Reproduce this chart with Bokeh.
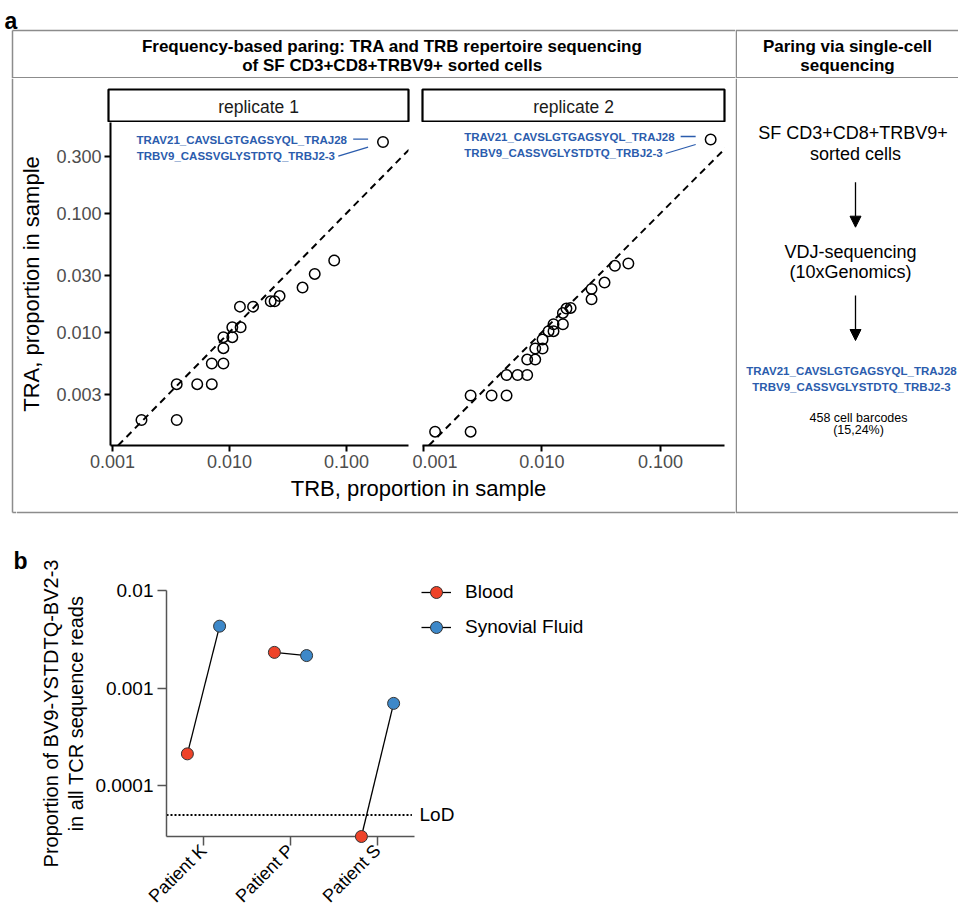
import math
import numpy as np
from bokeh.plotting import figure
from bokeh.layouts import row, column
from bokeh.models import (Range1d, FixedTicker, PrintfTickFormatter, Slope, Arrow, NormalHead,
                          Label, Legend, LegendItem, ColumnDataSource)
from bokeh.core.properties import value
from bokeh.embed import file_html
from bokeh.resources import INLINE

FONT = "Liberation Sans"
GRID = "#8c8c8c"
BLUE_TXT = "#2b5cad"
RED = "#ee4329"
BLUE = "#3d88c9"

# ---------------- data: panel a ----------------
replicates = ["replicate 1", "replicate 2"]
rep1_trb = [0.205, 0.0785, 0.0535, 0.0421, 0.0268, 0.0243, 0.0225, 0.0159, 0.01228, 0.01245,
            0.01057, 0.01057, 0.00887, 0.00887, 0.00887, 0.00706, 0.00706, 0.00530, 0.00354,
            0.00354, 0.00177]
rep1_tra = [0.396, 0.0400, 0.0309, 0.0237, 0.0201, 0.0182, 0.0182, 0.0164, 0.0164, 0.0110,
            0.0110, 0.00908, 0.00908, 0.00734, 0.00546, 0.00546, 0.00366, 0.00366, 0.00366,
            0.00183, 0.00183]
rep2_trb = [0.264, 0.0535, 0.0412, 0.0337, 0.0262, 0.0262, 0.01746, 0.0161, 0.01503, 0.01503,
            0.01253, 0.01253, 0.01138, 0.01013, 0.01013, 0.00879, 0.00879, 0.00752, 0.00752,
            0.00624, 0.00504, 0.00504, 0.00377, 0.00251, 0.00251, 0.00126]
rep2_tra = [0.416, 0.0378, 0.0361, 0.0261, 0.0231, 0.0189, 0.0160, 0.0158, 0.01452, 0.01167,
            0.01167, 0.0102, 0.0102, 0.00868, 0.00729, 0.00729, 0.00589, 0.00589, 0.00437,
            0.00437, 0.00437, 0.00294, 0.00294, 0.00294, 0.00146, 0.00146]
a_ticks_x = [0.001, 0.01, 0.1]
a_ticks_y = [0.003, 0.01, 0.03, 0.1, 0.3]
clone_labels = ["TRAV21_CAVSLGTGAGSYQL_TRAJ28", "TRBV9_CASSVGLYSTDTQ_TRBJ2-3"]

# ---------------- data: panel b ----------------
patients = ["Patient K", "Patient P", "Patient S"]
blood = [2.12e-4, 2.34e-3, 3.0e-5]
synovial = [4.35e-3, 2.17e-3, 7.0e-4]
lod = 5e-5
b_ticks_y = [1e-4, 1e-3, 1e-2]
b_tick_labels_y = ["0.0001", "0.001", "0.01"]

A_YR = (0.001117, 0.578)
PLOT_H = 355
PLOT_BB = 32


def deco(w, h):
    p = figure(width=w, height=h, x_range=Range1d(0, w), y_range=Range1d(h, 0),
               min_border=0, x_axis_location=None, y_axis_location=None,
               output_backend="svg", toolbar_location=None)
    p.outline_line_color = None
    p.grid.visible = False
    return p


def txt(p, x, y, s, size, bold=False, color="black", align="center", baseline="middle",
        angle=0.0):
    p.text(x=[x], y=[y], text=[s], text_font=value(FONT), text_font_size=f"{size}px",
           text_font_style="bold" if bold else "normal", text_color=color,
           text_align=align, text_baseline=baseline, angle=angle)


def seg(p, x0, y0, x1, y1, w=1.5, color=GRID):
    p.line([x0, x1], [y0, y1], line_color=color, line_width=w)


def style_axis(ax):
    ax.axis_line_width = 2
    ax.axis_line_color = "black"
    ax.major_tick_line_width = 2
    ax.major_tick_line_color = "black"
    ax.major_tick_out = 6
    ax.major_tick_in = 0
    ax.minor_tick_line_color = None
    ax.major_label_text_font = FONT
    ax.major_label_text_font_size = "18px"
    ax.major_label_text_color = "#4d4d4d"
    ax.major_label_standoff = 3
    ax.axis_label_text_font = FONT
    ax.axis_label_text_font_size = "22px"
    ax.axis_label_text_font_style = "normal"
    ax.axis_label_text_color = "black"


def scatter_panel(trb, tra, xr, width, bl, br, ylabel=None):
    p = figure(width=width, height=PLOT_H, x_axis_type="log", y_axis_type="log",
               x_range=Range1d(*xr), y_range=Range1d(*A_YR),
               min_border_left=bl, min_border_right=br, min_border_top=0,
               min_border_bottom=PLOT_BB,
               y_axis_location="left" if ylabel else None,
               output_backend="svg", toolbar_location=None)
    p.outline_line_color = None
    p.grid.visible = False
    xa = p.xaxis[0]
    xa.ticker = FixedTicker(ticks=a_ticks_x, minor_ticks=[])
    xa.formatter = PrintfTickFormatter(format="%.3f")
    style_axis(xa)
    if ylabel:
        ya = p.yaxis[0]
        ya.ticker = FixedTicker(ticks=a_ticks_y, minor_ticks=[])
        ya.formatter = PrintfTickFormatter(format="%.3f")
        style_axis(ya)
        ya.axis_label = ylabel
        ya.axis_label_standoff = 9
    p.add_layout(Slope(gradient=1, y_intercept=0, line_color="black", line_width=2,
                       line_dash="7 5"))
    p.scatter(trb, tra, marker="circle", size=10.5, fill_color=None, line_color="black",
              line_width=1.5)
    k = int(np.argmax(tra))
    xt, yt = trb[k], tra[k]
    fw = width - bl - br
    fh = PLOT_H - PLOT_BB
    pxx = fw / math.log10(xr[1] / xr[0])
    pxy = fh / math.log10(A_YR[1] / A_YR[0])

    def fx(dx):
        return xt * 10 ** (dx / pxx)

    def fy(dy):
        return yt * 10 ** (-dy / pxy)

    src = ColumnDataSource(dict(x=[xt, xt], y=[yt, yt], t=clone_labels,
                                xo=[-36, -48], yo=[-2.5, 13.5]))
    p.text(x="x", y="y", text="t", x_offset="xo", y_offset="yo", source=src,
           text_align="right", text_baseline="middle", text_font=value(FONT),
           text_font_style="bold", text_font_size="11.5px", text_color=BLUE_TXT)
    p.segment(x0=[fx(-30), fx(-45)], y0=[fy(-3), fy(14)], x1=[fx(-15), fx(-15)],
              y1=[fy(-3), fy(5)], line_color=BLUE_TXT, line_width=1.3)
    return p


# ---------------- panel a: header ----------------
hleft = deco(735, 78)
txt(hleft, 4, 20, "a", 23, bold=True, align="left", baseline="alphabetic")
seg(hleft, 12, 30, 735, 30)
seg(hleft, 12, 30, 12, 78)
seg(hleft, 12, 77.25, 735, 77.25)
txt(hleft, 391.7, 46.3, "Frequency-based paring: TRA and TRB repertoire sequencing", 17, bold=True)
txt(hleft, 391.7, 65.3, "of SF CD3+CD8+TRBV9+ sorted cells", 17, bold=True)

hright = deco(223, 78)
seg(hright, 0, 30, 223, 30)
seg(hright, 0.75, 30, 0.75, 78)
seg(hright, 0, 77.25, 223, 77.25)
txt(hright, 112, 46.3, "Paring via single-cell", 17, bold=True)
txt(hright, 112, 65.3, "sequencing", 17, bold=True)

# ---------------- panel a: body ----------------
c0 = deco(16, 436)
seg(c0, 12, 0, 12, 434)
seg(c0, 12, 434, 16, 434)

strip1 = deco(396, 44)
strip1.quad(left=[92], right=[392], top=[11], bottom=[43], fill_color="white",
            line_color="black", line_width=2.2)
txt(strip1, 242, 28, replicates[0], 17.5, color="#1a1a1a")

strip2 = deco(323, 44)
strip2.quad(left=[10], right=[312], top=[11], bottom=[43], fill_color="white",
            line_color="black", line_width=2.2)
txt(strip2, 161, 28, replicates[1], 17.5, color="#1a1a1a")

plot1 = scatter_panel(rep1_trb, rep1_tra, (0.000962, 0.3386), 396, 92, 4,
                      ylabel="TRA, proportion in sample")
plot2 = scatter_panel(rep2_trb, rep2_tra, (0.000987, 0.3453), 323, 10, 11)

xtitle = deco(719, 37)
txt(xtitle, 402, 11, "TRB, proportion in sample", 22)
seg(xtitle, 0, 35, 719, 35)

rbody = deco(223, 436)
seg(rbody, 0.75, 0, 0.75, 434)
seg(rbody, 0, 434, 223, 434)
txt(rbody, 117.5, 54.7, "SF CD3+CD8+TRBV9+", 18)
txt(rbody, 120, 75.3, "sorted cells", 18)
rbody.add_layout(Arrow(end=NormalHead(size=11, fill_color="black", line_color="black"),
                       x_start=120, y_start=103.7, x_end=120, y_end=148.7,
                       line_width=1.3, line_color="black"))
txt(rbody, 115, 173.7, "VDJ-sequencing", 18)
txt(rbody, 115, 193.7, "(10xGenomics)", 18)
rbody.add_layout(Arrow(end=NormalHead(size=11, fill_color="black", line_color="black"),
                       x_start=120, y_start=217, x_end=120, y_end=262,
                       line_width=1.3, line_color="black"))
txt(rbody, 116, 292, clone_labels[0], 11.5, bold=True, color=BLUE_TXT)
txt(rbody, 116, 308, clone_labels[1], 11.5, bold=True, color=BLUE_TXT)
txt(rbody, 123, 339, "458 cell barcodes", 12.5)
txt(rbody, 123, 351, "(15,24%)", 12.5)

body = row(c0, column(row(strip1, strip2), row(plot1, plot2), xtitle), rbody)

# ---------------- panel b ----------------
PB_H = 402
bfig = deco(90, PB_H)
txt(bfig, 13, 46, "b", 23, bold=True, align="left", baseline="alphabetic")
txt(bfig, 50, 199, "Proportion of BV9-YSTDTQ-BV2-3", 20, angle=math.pi / 2)
txt(bfig, 75, 199, "in all TCR sequence reads", 20, angle=math.pi / 2)

XB = (0.575, 3.425)          # span of the category axis
PB_W = 868
PB_L, PB_R, PB_T, PB_B = 76, 8, 56, 77
fw_b = PB_W - PB_L - PB_R
x_end = XB[0] + fw_b * (XB[1] - XB[0]) / 248.0
YB = (3.0e-5, 0.01624)

pb = figure(width=PB_W, height=PB_H, y_axis_type="log", x_range=Range1d(XB[0], x_end),
            y_range=Range1d(*YB),
            min_border_left=PB_L, min_border_right=PB_R, min_border_top=PB_T,
            min_border_bottom=PB_B, output_backend="svg", toolbar_location=None)
pb.outline_line_color = None
pb.grid.visible = False

AX_COL = "#555555"
for ax in (pb.xaxis[0], pb.yaxis[0]):
    ax.axis_line_color = AX_COL
    ax.axis_line_width = 1.5
    ax.major_tick_line_color = AX_COL
    ax.major_tick_line_width = 1.5
    ax.major_tick_out = 9
    ax.major_tick_in = 0
    ax.minor_tick_line_color = None
    ax.major_label_text_font = FONT
    ax.major_label_text_font_size = "19px"
    ax.major_label_text_color = "black"
    ax.major_label_standoff = 4

ya = pb.yaxis[0]
ya.ticker = FixedTicker(ticks=b_ticks_y, minor_ticks=[])
ya.major_label_overrides = dict(zip(b_ticks_y, b_tick_labels_y))
ya.bounds = (YB[0], b_ticks_y[-1])

xpos = list(range(1, len(patients) + 1))
xa = pb.xaxis[0]
xa.ticker = FixedTicker(ticks=xpos, minor_ticks=[])
xa.major_label_overrides = dict(zip(xpos, patients))
xa.major_label_orientation = math.pi / 4
xa.major_label_text_font_size = "18px"
xa.major_label_standoff = 2
xa.bounds = XB

DODGE = 0.185
bx = [x - DODGE for x in xpos]
sx = [x + DODGE for x in xpos]

pb.segment(x0=[XB[0]], y0=[lod], x1=[XB[1] - 0.03], y1=[lod], line_color="black",
           line_width=2, line_dash="2 2")
pb.add_layout(Label(x=XB[1], y=lod, x_offset=5, text="LoD", text_baseline="middle",
                    text_font=FONT, text_font_size="19px", text_color="black"))

links = pb.segment(x0=bx, y0=blood, x1=sx, y1=synovial, line_color="black", line_width=1.3)
rb = pb.scatter(bx, blood, marker="circle", size=12, fill_color=RED, line_color="#333333",
                line_width=1, level="overlay")
rs = pb.scatter(sx, synovial, marker="circle", size=12, fill_color=BLUE, line_color="#333333",
                line_width=1, level="overlay")

legend = Legend(items=[LegendItem(label="Blood", renderers=[links, rb]),
                       LegendItem(label="Synovial Fluid", renderers=[links, rs])],
                location=(255, 194), border_line_color=None, background_fill_alpha=0,
                padding=0, margin=0, spacing=5, glyph_width=30, glyph_height=30,
                label_standoff=14, label_text_font=FONT, label_text_font_size="19px",
                label_text_color="black", label_height=20)
pb.add_layout(legend)

layout = column(row(hleft, hright), body, row(column(bfig), pb))

open("out.html", "w").write(file_html(layout, INLINE))
